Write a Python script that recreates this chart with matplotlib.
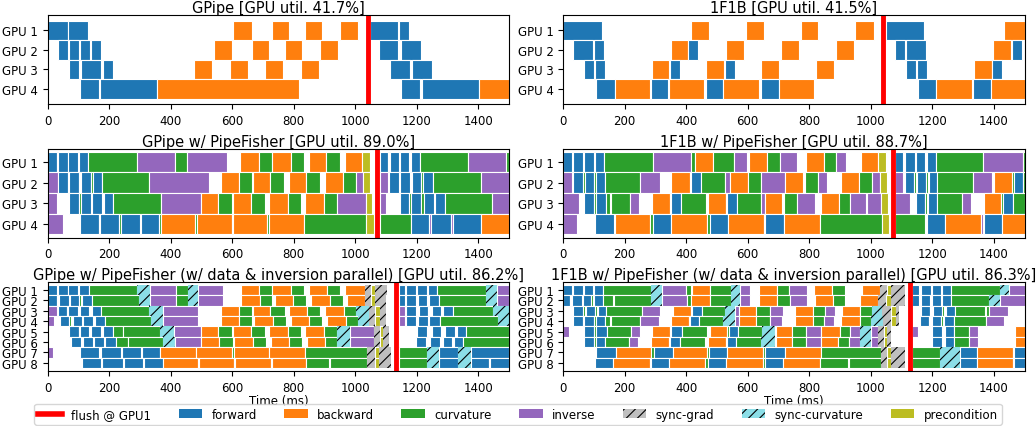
import matplotlib.pyplot as plt
from matplotlib.patches import Patch
from matplotlib.lines import Line2D

# F=forward B=backward C=curvature I=inverse SG=sync-grad SC=sync-curvature P=precondition
# each GPU row: (kind, start_ms, end_ms)

# ========= GPipe =========
gpipe = [
    [('F', 0, 65), ('F', 67, 132), ('B', 604, 664), ('B', 728, 785), ('B', 835, 891), ('B', 950, 1009),
     ('F', 1048, 1139), ('F', 1142, 1175)],
    [('F', 35, 67), ('F', 70, 103), ('F', 106, 139), ('F', 142, 174), ('B', 541, 599), ('B', 663, 720),
     ('B', 770, 826), ('B', 886, 944), ('F', 1078, 1140), ('F', 1148, 1213)],
    [('F', 70, 103), ('F', 109, 174), ('F', 181, 213), ('B', 477, 534), ('B', 594, 651), ('B', 707, 765),
     ('B', 824, 883), ('F', 1113, 1178), ('F', 1184, 1249)],
    [('F', 106, 167), ('F', 171, 354), ('B', 354, 818), ('F', 1150, 1211), ('F', 1216, 1402), ('B', 1402, 1500)],
]
gpipe_flush = 1040

# ========= 1F1B =========
onef1b = [
    [('F', 0, 125), ('B', 415, 473), ('B', 593, 652), ('B', 772, 830), ('B', 948, 1009), ('F', 1050, 1172),
     ('B', 1432, 1500)],
    [('F', 32, 97), ('F', 99, 132), ('B', 350, 407), ('F', 407, 440), ('B', 528, 587), ('B', 707, 766),
     ('B', 886, 944), ('F', 1078, 1110), ('F', 1113, 1178), ('B', 1397, 1455), ('F', 1458, 1490)],
    [('F', 67, 100), ('F', 103, 135), ('B', 288, 343), ('F', 347, 379), ('B', 464, 522), ('F', 525, 558),
     ('B', 642, 701), ('B', 821, 879), ('F', 1113, 1146), ('F', 1149, 1182), ('B', 1335, 1393), ('F', 1394, 1426)],
    [('F', 106, 168), ('B', 168, 282), ('F', 285, 341), ('B', 343, 457), ('F', 464, 521), ('B', 521, 637),
     ('F', 642, 701), ('B', 701, 814), ('F', 1153, 1211), ('B', 1211, 1328), ('F', 1331, 1392), ('B', 1392, 1500)],
]
onef1b_flush = 1040

# ========= GPipe w/ PipeFisher =========
gpipe_pf = [
    [('F', 0, 29), ('C', 29, 34), ('F', 34, 65), ('F', 67, 100), ('F', 103, 132), ('C', 132, 291), ('I', 291, 415),
     ('C', 415, 453), ('I', 453, 582), ('B', 624, 687), ('C', 687, 728), ('B', 728, 790), ('C', 790, 832),
     ('B', 848, 906), ('C', 906, 949), ('B', 965, 1023), ('P', 1023, 1047), ('F', 1079, 1106), ('C', 1106, 1110),
     ('F', 1112, 1142), ('F', 1144, 1175), ('F', 1180, 1209), ('C', 1209, 1367), ('I', 1367, 1491), ('C', 1491, 1500)],
    [('I', 0, 33), ('F', 35, 65), ('C', 65, 70), ('F', 70, 101), ('C', 101, 106), ('F', 108, 141), ('C', 141, 146),
     ('F', 146, 177), ('C', 177, 331), ('I', 331, 523), ('B', 562, 621), ('C', 621, 664), ('B', 667, 724),
     ('C', 724, 767), ('B', 783, 841), ('C', 841, 886), ('B', 900, 960), ('C', 960, 1001), ('I', 1001, 1025),
     ('P', 1025, 1047), ('I', 1079, 1106), ('F', 1108, 1141), ('F', 1144, 1177), ('F', 1184, 1215),
     ('C', 1215, 1220), ('F', 1220, 1251), ('C', 1251, 1408), ('I', 1408, 1500)],
    [('I', 0, 29), ('F', 70, 103), ('C', 103, 108), ('F', 108, 141), ('F', 144, 177), ('F', 184, 214),
     ('C', 214, 369), ('I', 369, 497), ('B', 497, 555), ('C', 555, 599), ('B', 602, 662), ('C', 662, 705),
     ('B', 721, 781), ('C', 781, 822), ('B', 838, 897), ('C', 897, 940), ('I', 940, 1034), ('P', 1034, 1055),
     ('I', 1079, 1101), ('F', 1144, 1175), ('C', 1175, 1182), ('F', 1182, 1215), ('C', 1215, 1222),
     ('F', 1222, 1256), ('F', 1258, 1291), ('C', 1291, 1443), ('I', 1443, 1500)],
    [('I', 0, 51), ('F', 106, 166), ('C', 166, 171), ('F', 171, 233), ('C', 233, 239), ('F', 239, 300),
     ('F', 304, 363), ('C', 363, 369), ('B', 369, 480), ('C', 480, 485), ('B', 485, 599), ('C', 599, 602),
     ('B', 602, 714), ('C', 714, 721), ('B', 721, 832), ('C', 832, 1036), ('P', 1036, 1060), ('C', 1079, 1180),
     ('F', 1180, 1239), ('I', 1239, 1245), ('F', 1247, 1310), ('I', 1310, 1316), ('F', 1318, 1408),
     ('B', 1408, 1500)],
]
gpipe_pf_flush = 1072

# ========= 1F1B w/ PipeFisher =========
onef1b_pf = [
    [('F', 0, 29), ('F', 32, 65), ('F', 67, 100), ('F', 103, 132), ('C', 132, 291), ('I', 291, 415),
     ('C', 415, 428), ('B', 428, 486), ('C', 486, 555), ('I', 555, 598), ('B', 604, 664), ('C', 664, 705),
     ('I', 705, 760), ('B', 789, 847), ('C', 847, 888), ('I', 888, 918), ('B', 967, 1025), ('P', 1025, 1048),
     ('F', 1079, 1106), ('F', 1112, 1144), ('F', 1147, 1176), ('F', 1182, 1211), ('C', 1211, 1366),
     ('I', 1366, 1494), ('C', 1494, 1500)],
    [('I', 0, 29), ('F', 32, 65), ('C', 65, 70), ('F', 70, 100), ('C', 100, 106), ('F', 108, 135),
     ('C', 135, 251), ('I', 251, 314), ('B', 352, 412), ('C', 412, 417), ('F', 417, 447), ('C', 447, 526),
     ('I', 526, 542), ('B', 542, 602), ('C', 602, 642), ('I', 642, 721), ('B', 721, 779), ('C', 786, 828),
     ('I', 828, 857), ('B', 904, 962), ('C', 962, 1003), ('I', 1003, 1030), ('P', 1030, 1052),
     ('I', 1079, 1106), ('F', 1112, 1142), ('C', 1142, 1148), ('F', 1150, 1180), ('C', 1180, 1186),
     ('F', 1188, 1215), ('C', 1215, 1332), ('I', 1332, 1394), ('B', 1399, 1459), ('C', 1459, 1464),
     ('F', 1464, 1494), ('C', 1494, 1500)],
    [('I', 0, 51), ('F', 67, 100), ('C', 100, 106), ('F', 106, 139), ('C', 139, 153), ('C', 156, 217),
     ('I', 217, 246), ('B', 290, 347), ('C', 347, 352), ('F', 352, 382), ('C', 382, 464), ('B', 472, 529),
     ('C', 529, 533), ('F', 533, 564), ('C', 564, 643), ('I', 643, 656), ('B', 656, 713), ('C', 718, 760),
     ('I', 760, 819), ('B', 838, 897), ('C', 897, 933), ('I', 933, 985), ('I', 988, 1034), ('P', 1034, 1055),
     ('I', 1079, 1128), ('F', 1147, 1176), ('C', 1176, 1183), ('F', 1185, 1215), ('C', 1215, 1296),
     ('I', 1296, 1326), ('B', 1367, 1424), ('C', 1424, 1429), ('F', 1429, 1462), ('C', 1462, 1500)],
    [('I', 0, 46), ('F', 103, 166), ('B', 168, 284), ('C', 284, 291), ('F', 291, 352), ('B', 352, 468),
     ('C', 468, 477), ('F', 477, 537), ('B', 537, 653), ('C', 653, 656), ('F', 656, 719), ('B', 719, 835),
     ('C', 835, 1036), ('P', 1036, 1060), ('C', 1079, 1177), ('F', 1182, 1242), ('B', 1242, 1359),
     ('I', 1359, 1366), ('F', 1369, 1428), ('B', 1428, 1500)],
]
onef1b_pf_flush = 1072

# ========= GPipe w/ PipeFisher (data & inversion parallel) =========
gpipe_dp = [
    [('F', 0, 29), ('F', 35, 65), ('F', 67, 100), ('F', 103, 133), ('C', 133, 291), ('SC', 291, 334),
     ('I', 334, 417), ('C', 417, 456), ('SC', 456, 490), ('I', 490, 571), ('B', 627, 687), ('C', 687, 730),
     ('B', 730, 790), ('C', 790, 832), ('B', 848, 908), ('C', 908, 951), ('B', 968, 1030), ('SG', 1030, 1052),
     ('P', 1052, 1065), ('SG', 1065, 1104), ('F', 1141, 1163), ('F', 1166, 1198), ('F', 1202, 1233),
     ('F', 1236, 1267), ('C', 1267, 1426), ('SC', 1426, 1459), ('I', 1459, 1500)],
    [('F', 0, 29), ('C', 29, 34), ('F', 38, 68), ('F', 73, 103), ('C', 103, 108), ('F', 111, 144),
     ('C', 144, 298), ('SC', 298, 334), ('I', 334, 417), ('C', 417, 456), ('SC', 456, 490), ('I', 490, 571),
     ('B', 627, 689), ('C', 689, 730), ('B', 738, 797), ('C', 797, 841), ('B', 855, 917), ('C', 917, 960),
     ('B', 973, 1030), ('SG', 1030, 1050), ('P', 1050, 1065), ('SG', 1065, 1101), ('F', 1141, 1163),
     ('F', 1166, 1198), ('F', 1204, 1234), ('F', 1240, 1272), ('C', 1272, 1426), ('SC', 1426, 1462),
     ('I', 1462, 1500)],
    [('I', 0, 29), ('F', 35, 63), ('C', 63, 67), ('F', 67, 100), ('F', 105, 135), ('F', 144, 173),
     ('C', 173, 328), ('SC', 328, 374), ('I', 374, 490), ('B', 562, 621), ('C', 621, 664), ('B', 667, 724),
     ('C', 724, 770), ('B', 786, 844), ('C', 844, 886), ('B', 902, 962), ('C', 962, 1003), ('SC', 1003, 1043),
     ('SG', 1043, 1065), ('P', 1065, 1079), ('SG', 1079, 1101), ('I', 1141, 1161), ('F', 1166, 1198),
     ('F', 1206, 1236), ('C', 1236, 1241), ('F', 1249, 1280), ('F', 1285, 1316), ('C', 1316, 1448),
     ('SC', 1448, 1500)],
    [('I', 0, 22), ('F', 41, 70), ('C', 70, 75), ('F', 81, 112), ('F', 116, 149), ('F', 155, 188),
     ('C', 188, 336), ('SC', 336, 374), ('I', 374, 490), ('B', 562, 621), ('C', 621, 664), ('B', 672, 732),
     ('C', 732, 775), ('B', 790, 849), ('C', 849, 893), ('B', 909, 971), ('C', 971, 1009), ('SC', 1009, 1043),
     ('SG', 1043, 1065), ('P', 1065, 1079), ('SG', 1079, 1101), ('I', 1141, 1163), ('F', 1166, 1198),
     ('F', 1204, 1236), ('F', 1241, 1274), ('C', 1274, 1464), ('SC', 1464, 1500)],
    [('F', 70, 103), ('C', 103, 106), ('F', 106, 135), ('F', 141, 173), ('F', 179, 211), ('C', 211, 244),
     ('C', 246, 365), ('SC', 365, 412), ('I', 412, 499), ('B', 499, 555), ('C', 555, 599), ('B', 602, 662),
     ('C', 662, 705), ('B', 721, 781), ('C', 781, 822), ('B', 838, 898), ('C', 898, 940), ('SC', 940, 982),
     ('I', 982, 1060), ('SG', 1060, 1080), ('P', 1080, 1091), ('SG', 1091, 1108), ('F', 1202, 1234),
     ('F', 1249, 1280), ('F', 1291, 1323), ('F', 1329, 1359), ('C', 1359, 1500)],
    [('F', 76, 108), ('F', 114, 146), ('F', 150, 182), ('F', 188, 222), ('C', 222, 260), ('C', 262, 374),
     ('SC', 374, 413), ('I', 413, 499), ('B', 499, 558), ('C', 558, 601), ('B', 607, 666), ('C', 666, 710),
     ('B', 725, 785), ('C', 785, 828), ('B', 844, 902), ('C', 902, 942), ('SC', 942, 982), ('I', 982, 1060),
     ('SG', 1060, 1080), ('P', 1080, 1091), ('SG', 1091, 1108), ('F', 1198, 1231), ('F', 1242, 1274),
     ('F', 1285, 1315), ('F', 1322, 1351), ('C', 1351, 1500)],
    [('I', 0, 16), ('F', 106, 168), ('F', 173, 238), ('F', 241, 304), ('F', 307, 365), ('B', 365, 483),
     ('B', 483, 599), ('C', 599, 605), ('B', 605, 719), ('B', 719, 835), ('C', 835, 1038), ('SG', 1038, 1063),
     ('P', 1063, 1077), ('SG', 1077, 1115), ('C', 1141, 1234), ('SC', 1234, 1272), ('F', 1272, 1334),
     ('SC', 1334, 1377), ('F', 1377, 1500)],
    [('F', 112, 173), ('F', 177, 244), ('F', 247, 309), ('F', 312, 374), ('B', 374, 488), ('C', 488, 491),
     ('B', 491, 607), ('C', 607, 610), ('B', 610, 726), ('C', 726, 729), ('B', 729, 840), ('C', 840, 916),
     ('C', 919, 1038), ('SG', 1038, 1063), ('P', 1063, 1077), ('SG', 1077, 1115), ('C', 1141, 1234),
     ('SC', 1234, 1272), ('F', 1272, 1334), ('SC', 1334, 1377), ('F', 1377, 1434), ('I', 1434, 1437),
     ('F', 1437, 1500)],
]
gpipe_dp_flush = 1133

# ========= 1F1B w/ PipeFisher (data & inversion parallel) =========
onef1b_dp = [
    [('F', 0, 29), ('F', 32, 65), ('F', 67, 98), ('F', 101, 128), ('C', 128, 287), ('SC', 287, 320),
     ('I', 320, 401), ('C', 401, 417), ('B', 420, 479), ('C', 479, 547), ('SC', 547, 576), ('I', 576, 607),
     ('B', 637, 696), ('C', 696, 734), ('I', 734, 792), ('B', 815, 875), ('C', 875, 916), ('B', 973, 1030),
     ('SG', 1030, 1052), ('P', 1052, 1065), ('SG', 1065, 1112), ('F', 1133, 1158), ('F', 1162, 1195),
     ('F', 1198, 1229), ('F', 1231, 1260), ('C', 1260, 1419), ('SC', 1419, 1448), ('I', 1448, 1500)],
    [('F', 0, 22), ('C', 22, 27), ('F', 29, 60), ('F', 63, 92), ('C', 92, 97), ('F', 99, 128), ('C', 128, 163),
     ('C', 166, 287), ('SC', 287, 320), ('I', 320, 403), ('C', 403, 417), ('B', 417, 477), ('C', 477, 547),
     ('SC', 547, 576), ('I', 576, 607), ('B', 637, 696), ('C', 696, 738), ('I', 738, 792), ('B', 818, 878),
     ('C', 878, 916), ('B', 966, 1023), ('SG', 1023, 1050), ('P', 1050, 1065), ('SG', 1065, 1110),
     ('F', 1133, 1158), ('F', 1162, 1193), ('F', 1198, 1229), ('F', 1233, 1260), ('C', 1260, 1383),
     ('SC', 1383, 1419), ('I', 1419, 1500)],
    [('F', 32, 63), ('C', 63, 70), ('F', 74, 103), ('C', 103, 110), ('F', 112, 139), ('C', 139, 255),
     ('I', 255, 314), ('B', 357, 415), ('C', 415, 420), ('F', 420, 450), ('C', 450, 526), ('SC', 526, 560),
     ('I', 560, 571), ('B', 571, 628), ('C', 628, 671), ('I', 671, 715), ('B', 753, 811), ('C', 811, 851),
     ('I', 851, 884), ('B', 908, 964), ('C', 964, 1005), ('SC', 1005, 1038), ('SG', 1038, 1067),
     ('P', 1067, 1081), ('SG', 1081, 1092), ('F', 1162, 1191), ('C', 1191, 1197), ('F', 1202, 1233),
     ('C', 1233, 1238), ('F', 1243, 1273), ('C', 1273, 1370), ('C', 1373, 1384), ('I', 1384, 1446)],
    [('F', 32, 63), ('C', 63, 68), ('F', 68, 100), ('C', 100, 106), ('F', 106, 135), ('C', 135, 152),
     ('C', 155, 251), ('I', 251, 311), ('B', 350, 409), ('C', 409, 414), ('F', 414, 441), ('C', 441, 520),
     ('SC', 520, 558), ('I', 558, 571), ('B', 571, 628), ('C', 628, 671), ('I', 671, 710), ('B', 753, 811),
     ('C', 811, 849), ('I', 849, 882), ('B', 904, 964), ('C', 964, 1001), ('SC', 1001, 1039), ('SG', 1039, 1067),
     ('P', 1067, 1081), ('SG', 1081, 1092), ('F', 1160, 1188), ('C', 1188, 1194), ('F', 1198, 1229),
     ('C', 1229, 1234), ('F', 1238, 1269), ('C', 1269, 1373), ('I', 1373, 1433)],
    [('I', 0, 18), ('F', 68, 100), ('C', 100, 106), ('F', 108, 141), ('C', 141, 222), ('I', 222, 251),
     ('B', 290, 348), ('C', 348, 352), ('F', 352, 385), ('C', 385, 468), ('B', 477, 534), ('C', 534, 539),
     ('F', 539, 569), ('C', 569, 645), ('SC', 645, 690), ('I', 690, 693), ('B', 693, 745), ('C', 745, 789),
     ('I', 789, 838), ('B', 838, 899), ('C', 899, 934), ('I', 934, 966), ('SC', 966, 1000), ('I', 1000, 1024),
     ('SG', 1024, 1042), ('P', 1042, 1053), ('SG', 1053, 1067), ('I', 1133, 1155), ('F', 1198, 1231),
     ('F', 1240, 1269), ('C', 1269, 1318), ('I', 1318, 1348), ('B', 1468, 1500)],
    [('F', 68, 100), ('C', 100, 106), ('F', 106, 135), ('C', 135, 215), ('I', 215, 243), ('B', 285, 345),
     ('C', 345, 349), ('F', 349, 379), ('C', 379, 461), ('B', 470, 529), ('C', 529, 534), ('F', 534, 562),
     ('C', 562, 643), ('SC', 643, 688), ('I', 688, 693), ('B', 693, 745), ('C', 745, 789), ('I', 789, 838),
     ('B', 838, 895), ('C', 895, 929), ('I', 929, 966), ('SC', 966, 1000), ('I', 1000, 1024),
     ('SG', 1024, 1042), ('P', 1042, 1053), ('SG', 1053, 1067), ('F', 1198, 1231), ('F', 1240, 1269),
     ('C', 1269, 1318), ('I', 1318, 1348), ('B', 1468, 1500)],
    [('F', 108, 173), ('B', 173, 287), ('C', 287, 295), ('F', 295, 356), ('B', 356, 468), ('C', 468, 473),
     ('F', 473, 534), ('B', 534, 650), ('C', 650, 657), ('F', 657, 720), ('B', 720, 837), ('C', 837, 1034),
     ('SG', 1034, 1053), ('P', 1053, 1065), ('SG', 1065, 1110), ('C', 1133, 1226), ('SC', 1226, 1289),
     ('F', 1289, 1346), ('B', 1346, 1462), ('I', 1462, 1466), ('F', 1466, 1500)],
    [('F', 103, 162), ('B', 162, 282), ('C', 282, 287), ('F', 287, 344), ('B', 344, 462), ('C', 462, 471),
     ('F', 471, 531), ('B', 531, 650), ('C', 650, 657), ('F', 657, 715), ('B', 715, 834), ('C', 834, 927),
     ('C', 930, 1034), ('SG', 1034, 1053), ('P', 1053, 1065), ('SG', 1065, 1110), ('C', 1133, 1226),
     ('SC', 1226, 1289), ('F', 1289, 1346), ('B', 1346, 1462), ('I', 1462, 1466), ('F', 1466, 1500)],
]
onef1b_dp_flush = 1126

titles = ['GPipe [GPU util. 41.7%]', '1F1B [GPU util. 41.5%]',
          'GPipe w/ PipeFisher [GPU util. 89.0%]', '1F1B w/ PipeFisher [GPU util. 88.7%]',
          'GPipe w/ PipeFisher (w/ data & inversion parallel) [GPU util. 86.2%]',
          '1F1B w/ PipeFisher (w/ data & inversion parallel) [GPU util. 86.3%]']

colors = {'F': 'tab:blue', 'B': 'tab:orange', 'C': 'tab:green', 'I': 'tab:purple',
          'SG': '#bfbfbf', 'SC': '#8bdee7', 'P': 'tab:olive'}
names = {'F': 'forward', 'B': 'backward', 'C': 'curvature', 'I': 'inverse',
         'SG': 'sync-grad', 'SC': 'sync-curvature', 'P': 'precondition'}

plt.rcParams['hatch.linewidth'] = 0.8

fig, axes = plt.subplots(3, 2, figsize=(10.36, 4.27), dpi=100)
fig.subplots_adjust(left=0.046, right=0.989, top=0.962, bottom=0.129, wspace=0.117, hspace=0.5)

panels = [(gpipe, gpipe_flush), (onef1b, onef1b_flush),
          (gpipe_pf, gpipe_pf_flush), (onef1b_pf, onef1b_pf_flush),
          (gpipe_dp, gpipe_dp_flush), (onef1b_dp, onef1b_dp_flush)]

for idx, (ax, (rows, flush), title) in enumerate(zip(axes.flat, panels, titles)):
    for i, row in enumerate(rows):
        for kind, s, e in row:
            if kind in ('SG', 'SC'):
                ax.barh(i, e - s, left=s, height=1, color=colors[kind], edgecolor='black',
                        hatch='///', linewidth=0)
            else:
                ax.barh(i, e - s, left=s, height=1, color=colors[kind], edgecolor='white',
                        linewidth=0.8)
    ax.axvline(flush, color='red', lw=3.5)
    n = len(rows)
    # =========row margins=========
    m = 0.15 if idx in (2, 3) else 0.27
    ax.set_ylim(n - 0.5 + m, -0.5 - m)
    ax.set_yticks(range(n))
    ax.set_yticklabels(['GPU %d' % (k + 1) for k in range(n)], fontsize=8.5)
    ax.set_xlim(0, 1500)
    ax.set_xticks(range(0, 1500, 200))
    ax.tick_params(axis='x', labelsize=8.5)
    ax.set_title(title, fontsize=10.5, pad=2)

for ax in axes[2]:
    ax.set_xlabel('Time (ms)', fontsize=8.5, labelpad=0)

handles = [Line2D([0], [0], color='red', lw=4, label='flush @ GPU1')]
for k in ['F', 'B', 'C', 'I', 'SG', 'SC', 'P']:
    if k in ('SG', 'SC'):
        handles.append(Patch(facecolor=colors[k], edgecolor='black', hatch='///', linewidth=0, label=names[k]))
    else:
        handles.append(Patch(facecolor=colors[k], label=names[k]))
fig.legend(handles=handles, loc='lower center', ncol=8, fontsize=8.5, bbox_to_anchor=(0.5, 0.0),
           columnspacing=2.3, borderpad=0.35, borderaxespad=0.1)

fig.savefig('out.png')
